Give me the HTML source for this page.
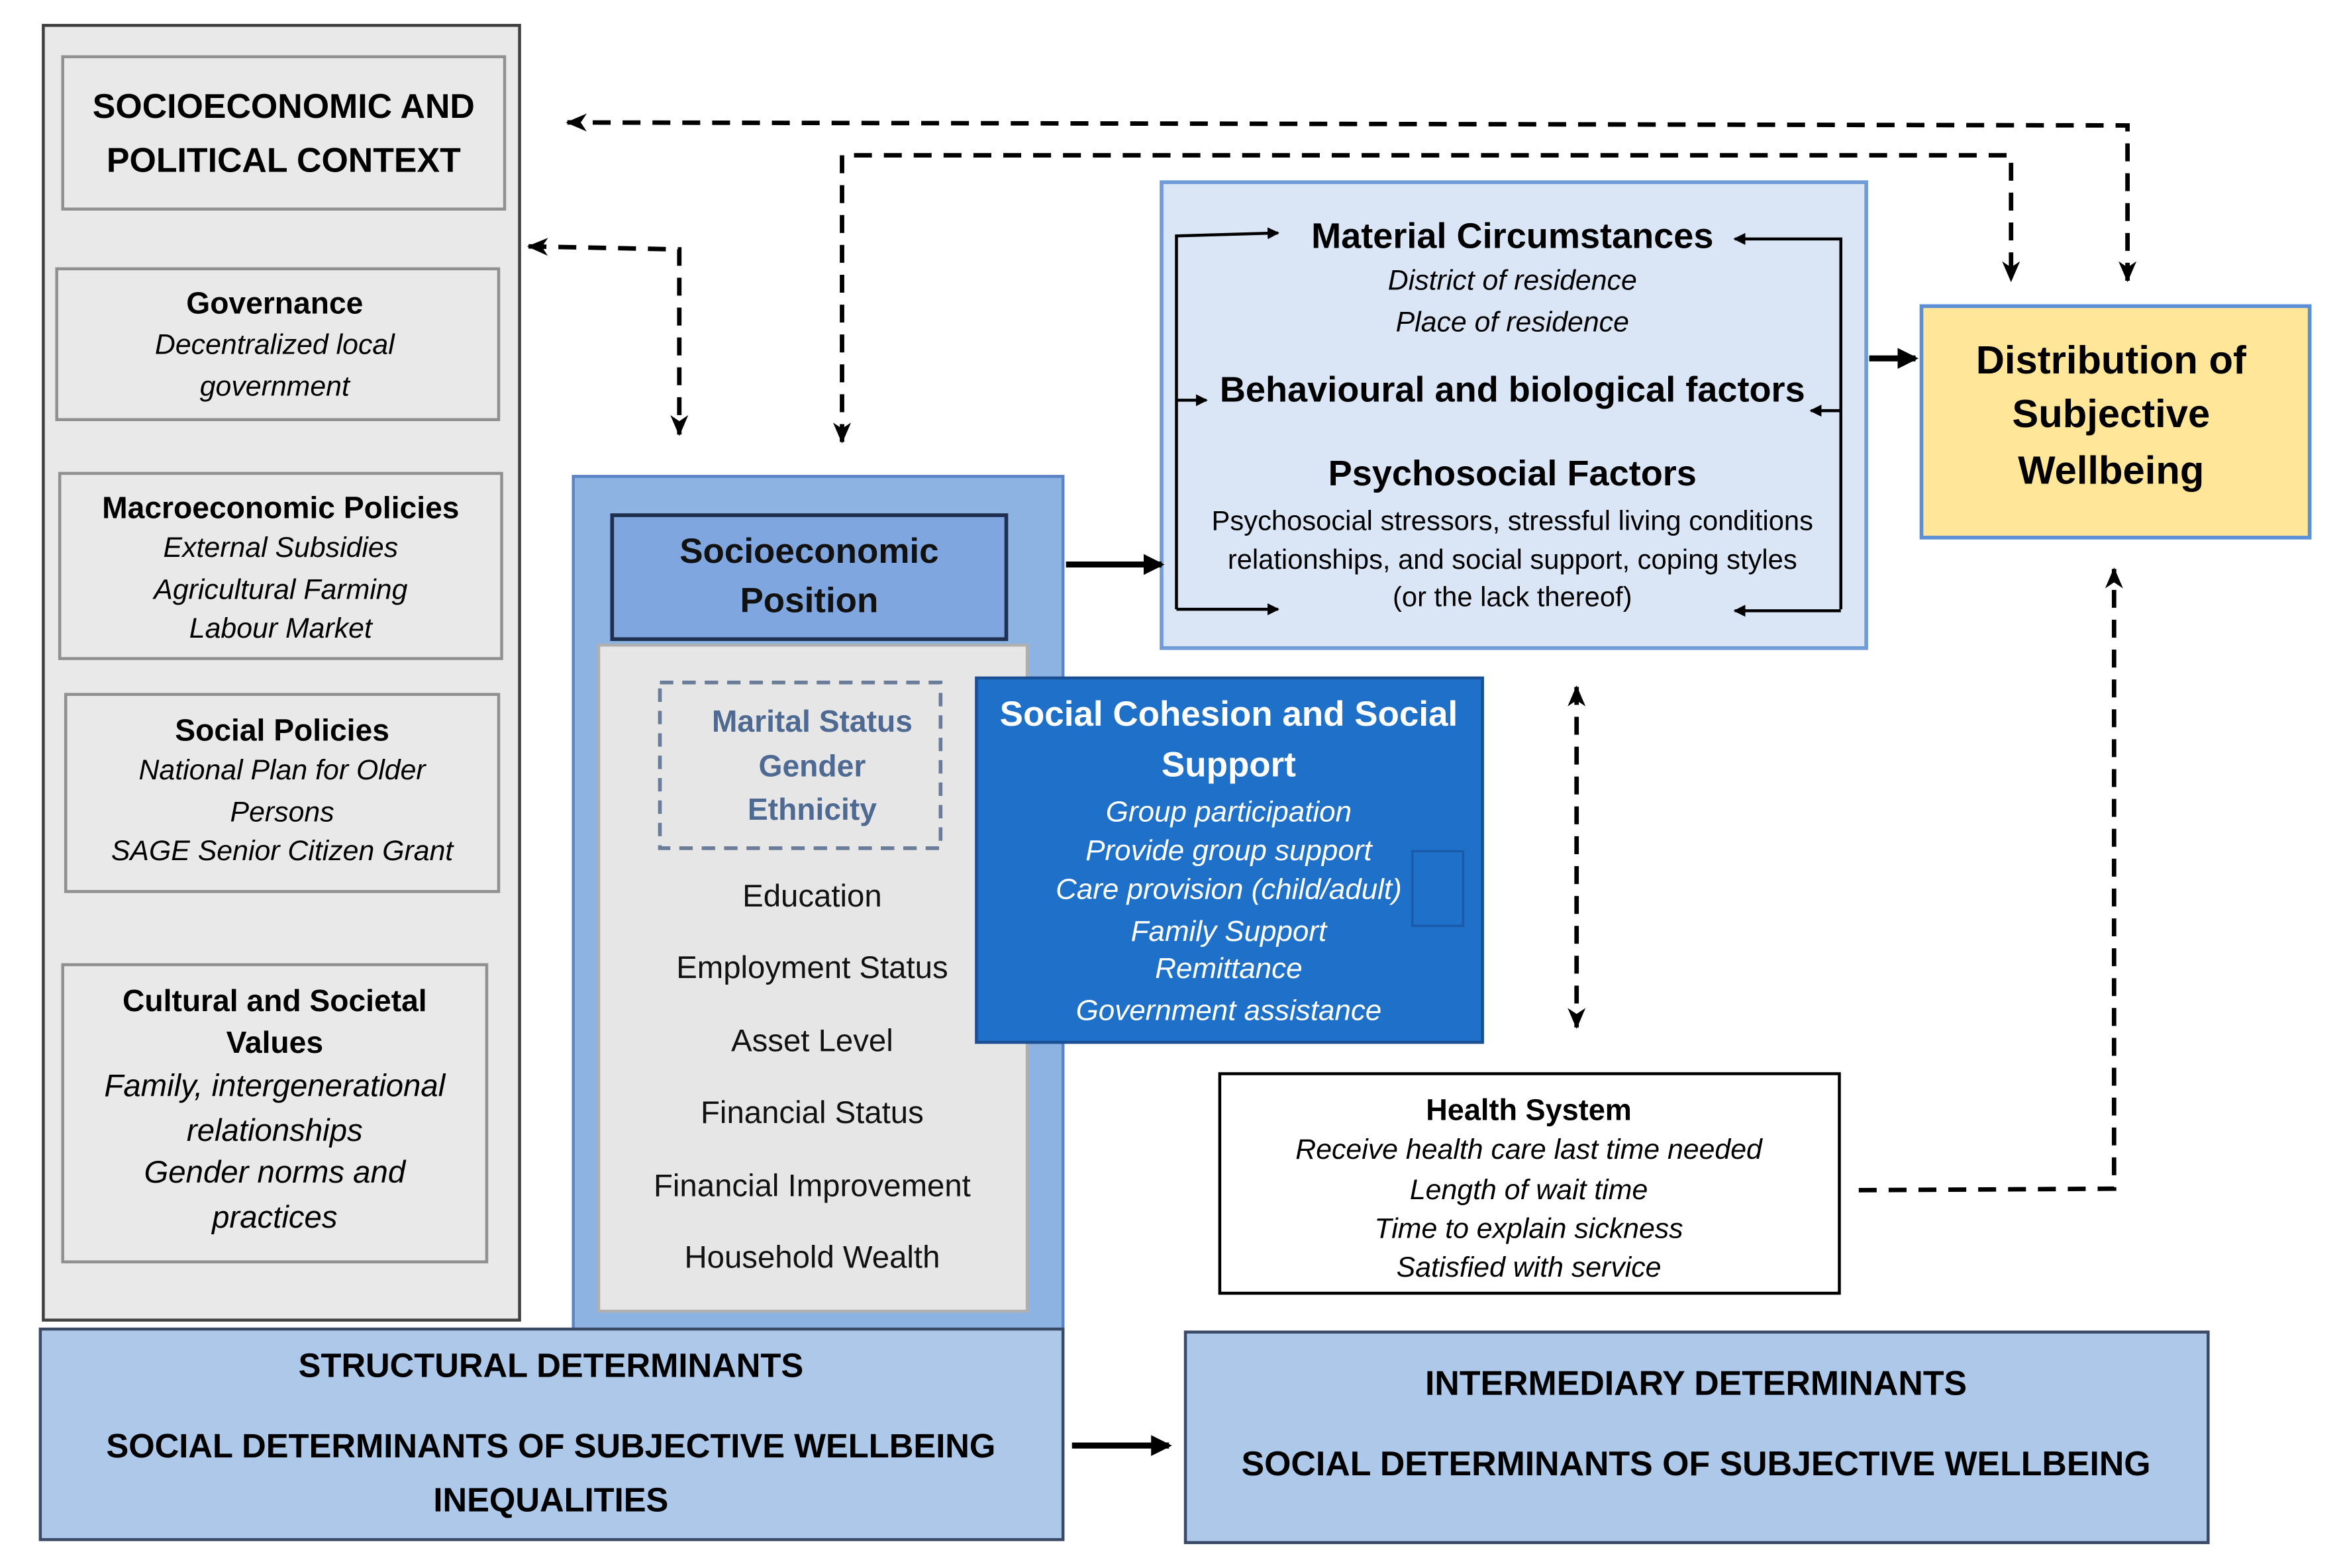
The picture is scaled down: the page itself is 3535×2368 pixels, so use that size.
<!DOCTYPE html>
<html><head><meta charset="utf-8"><style>html,body{margin:0;padding:0;background:#fff}svg{display:block}text{font-family:"Liberation Sans",sans-serif}</style></head><body>
<svg width="3535" height="2368" viewBox="0 0 1568 1050" preserveAspectRatio="none" xmlns="http://www.w3.org/2000/svg">
<defs>
<marker id="ah" markerWidth="8" markerHeight="8" refX="7" refY="4" orient="auto" markerUnits="userSpaceOnUse"><path d="M0,0 L8,4 L0,8 Z" fill="#000"/></marker>
<marker id="ahb" markerWidth="14" markerHeight="14" refX="12" refY="7" orient="auto" markerUnits="userSpaceOnUse"><path d="M0,0 L14,7 L0,14 Z" fill="#000"/></marker>
<marker id="ahd" markerWidth="14" markerHeight="14" refX="13" refY="7" orient="auto-start-reverse" markerUnits="userSpaceOnUse"><path d="M0,1 L14,7 L0,13 L4,7 Z" fill="#000"/></marker>
</defs>
<rect width="1568" height="1050" fill="#fff"/>
<rect x="29" y="17" width="319" height="867" fill="#e9e9e9" stroke="#404040" stroke-width="2"/>
<rect x="42" y="38" width="296" height="102" fill="#e9e9e9" stroke="#909090" stroke-width="2"/>
<text x="190" y="79" font-size="23" font-weight="bold" text-anchor="middle">SOCIOECONOMIC AND</text>
<text x="190" y="115" font-size="23" font-weight="bold" text-anchor="middle">POLITICAL CONTEXT</text>
<rect x="38" y="180" width="296" height="101" fill="#e9e9e9" stroke="#909090" stroke-width="2"/>
<text x="184" y="210" font-size="20.5" font-weight="bold" text-anchor="middle">Governance</text>
<g font-size="19" font-style="italic" text-anchor="middle">
<text x="184" y="237">Decentralized local</text><text x="184" y="265">government</text></g>
<rect x="40" y="317" width="296" height="124" fill="#e9e9e9" stroke="#909090" stroke-width="2"/>
<text x="188" y="347" font-size="20.5" font-weight="bold" text-anchor="middle">Macroeconomic Policies</text>
<g font-size="19" font-style="italic" text-anchor="middle">
<text x="188" y="373">External Subsidies</text><text x="188" y="401">Agricultural Farming</text><text x="188" y="427">Labour Market</text></g>
<rect x="44" y="465" width="290" height="132" fill="#e9e9e9" stroke="#909090" stroke-width="2"/>
<text x="189" y="496" font-size="20.5" font-weight="bold" text-anchor="middle">Social Policies</text>
<g font-size="19" font-style="italic" text-anchor="middle">
<text x="189" y="522">National Plan for Older</text><text x="189" y="550">Persons</text><text x="189" y="576">SAGE Senior Citizen Grant</text></g>
<rect x="42" y="646" width="284" height="199" fill="#e9e9e9" stroke="#909090" stroke-width="2"/>
<g font-size="20.5" font-weight="bold" text-anchor="middle"><text x="184" y="677">Cultural and Societal</text><text x="184" y="705">Values</text></g>
<g font-size="21" font-style="italic" text-anchor="middle">
<text x="184" y="734">Family, intergenerational</text><text x="184" y="764">relationships</text><text x="184" y="792">Gender norms and</text><text x="184" y="822">practices</text></g>
<rect x="384" y="319" width="328" height="571" fill="#8db3e2" stroke="#5b84c4" stroke-width="2"/>
<rect x="410" y="345" width="264" height="83" fill="#7fa6de" stroke="#1f2f50" stroke-width="2.5"/>
<g font-size="23.5" font-weight="bold" text-anchor="middle" fill="#111"><text x="542" y="377">Socioeconomic</text><text x="542" y="410">Position</text></g>
<rect x="401" y="432" width="287" height="446" fill="#e6e6e6" stroke="#b0b0b0" stroke-width="2"/>
<rect x="442" y="457" width="188" height="111" fill="none" stroke="#6a7c98" stroke-width="2.5" stroke-dasharray="9,6"/>
<g font-size="20.5" font-weight="bold" text-anchor="middle" fill="#4e6a92"><text x="544" y="490">Marital Status</text><text x="544" y="520">Gender</text><text x="544" y="549">Ethnicity</text></g>
<g font-size="21" text-anchor="middle" fill="#111">
<text x="544" y="607">Education</text><text x="544" y="655">Employment Status</text><text x="544" y="704">Asset Level</text><text x="544" y="752">Financial Status</text><text x="544" y="801">Financial Improvement</text><text x="544" y="849">Household Wealth</text></g>
<rect x="654" y="454" width="339" height="244" fill="#1f70c8" stroke="#1a4f96" stroke-width="2"/>
<rect x="946" y="570" width="34" height="50" fill="none" stroke="#1a5aa8" stroke-width="1.5"/>
<g font-size="23.5" font-weight="bold" text-anchor="middle" fill="#fff"><text x="823" y="486">Social Cohesion and Social</text><text x="823" y="520">Support</text></g>
<g font-size="19.5" font-style="italic" text-anchor="middle" fill="#fff">
<text x="823" y="550">Group participation</text><text x="823" y="576">Provide group support</text><text x="823" y="602">Care provision (child/adult)</text><text x="823" y="630">Family Support</text><text x="823" y="655">Remittance</text><text x="823" y="683">Government assistance</text></g>
<rect x="778" y="122" width="472" height="312" fill="#dae6f5" stroke="#6f9bd6" stroke-width="2.5"/>
<g stroke="#000" stroke-width="2" fill="none">
<polyline points="788,408 788,158 856,156" marker-end="url(#ah)"/>
<line x1="788" y1="268" x2="808" y2="268" marker-end="url(#ah)"/>
<line x1="788" y1="408" x2="856" y2="408" marker-end="url(#ah)"/>
<polyline points="1233,408 1233,160 1162,160" marker-end="url(#ah)"/>
<line x1="1233" y1="275" x2="1213" y2="275" marker-end="url(#ah)"/>
<line x1="1233" y1="409" x2="1162" y2="409" marker-end="url(#ah)"/>
</g>
<text x="1013" y="166" font-size="24" font-weight="bold" text-anchor="middle">Material Circumstances</text>
<g font-size="19" font-style="italic" text-anchor="middle"><text x="1013" y="194">District of residence</text><text x="1013" y="222">Place of residence</text></g>
<text x="1013" y="269" font-size="24" font-weight="bold" text-anchor="middle">Behavioural and biological factors</text>
<text x="1013" y="325" font-size="24" font-weight="bold" text-anchor="middle">Psychosocial Factors</text>
<g font-size="18.5" text-anchor="middle"><text x="1013" y="355">Psychosocial stressors, stressful living conditions</text><text x="1013" y="381">relationships, and social support, coping styles</text><text x="1013" y="406">(or the lack thereof)</text></g>
<rect x="1287" y="205" width="260" height="155" fill="#ffe699" stroke="#5b8fd6" stroke-width="2.5"/>
<g font-size="26.5" font-weight="bold" text-anchor="middle"><text x="1414" y="250">Distribution of</text><text x="1414" y="286">Subjective</text><text x="1414" y="324">Wellbeing</text></g>
<rect x="817" y="719" width="415" height="147" fill="#fff" stroke="#000" stroke-width="2"/>
<text x="1024" y="750" font-size="20" font-weight="bold" text-anchor="middle">Health System</text>
<g font-size="19" font-style="italic" text-anchor="middle"><text x="1024" y="776">Receive health care last time needed</text><text x="1024" y="803">Length of wait time</text><text x="1024" y="829">Time to explain sickness</text><text x="1024" y="855">Satisfied with service</text></g>
<rect x="27" y="890" width="685" height="141" fill="#adc8e8" stroke="#3a4a66" stroke-width="2"/>
<g font-size="22.5" font-weight="bold" text-anchor="middle"><text x="369" y="922">STRUCTURAL DETERMINANTS</text><text x="369" y="976">SOCIAL DETERMINANTS OF SUBJECTIVE WELLBEING</text><text x="369" y="1012">INEQUALITIES</text></g>
<rect x="794" y="892" width="685" height="141" fill="#adc8e8" stroke="#3a4a66" stroke-width="2"/>
<g font-size="23" font-weight="bold" text-anchor="middle"><text x="1136" y="934">INTERMEDIARY DETERMINANTS</text><text x="1136" y="988">SOCIAL DETERMINANTS OF SUBJECTIVE WELLBEING</text></g>
<g stroke="#000" stroke-width="4" fill="none">
<line x1="714" y1="378" x2="778" y2="378" marker-end="url(#ahb)"/>
<line x1="1252" y1="240" x2="1283" y2="240" marker-end="url(#ahb)"/>
<line x1="718" y1="968" x2="783" y2="968" marker-end="url(#ahb)"/>
</g>
<g stroke="#000" stroke-width="3" fill="none" stroke-dasharray="12,8">
<polyline points="1425,188 1425,84 380,82" marker-start="url(#ahd)" marker-end="url(#ahd)"/>
<polyline points="564,296 564,104 1347,104 1347,188" marker-start="url(#ahd)" marker-end="url(#ahd)"/>
<polyline points="354,165 455,167 455,291" marker-start="url(#ahd)" marker-end="url(#ahd)"/>
<line x1="1056" y1="460" x2="1056" y2="688" marker-start="url(#ahd)" marker-end="url(#ahd)"/>
<polyline points="1245,797 1416,796 1416,381" marker-end="url(#ahd)"/>
</g>
</svg>
</body></html>
